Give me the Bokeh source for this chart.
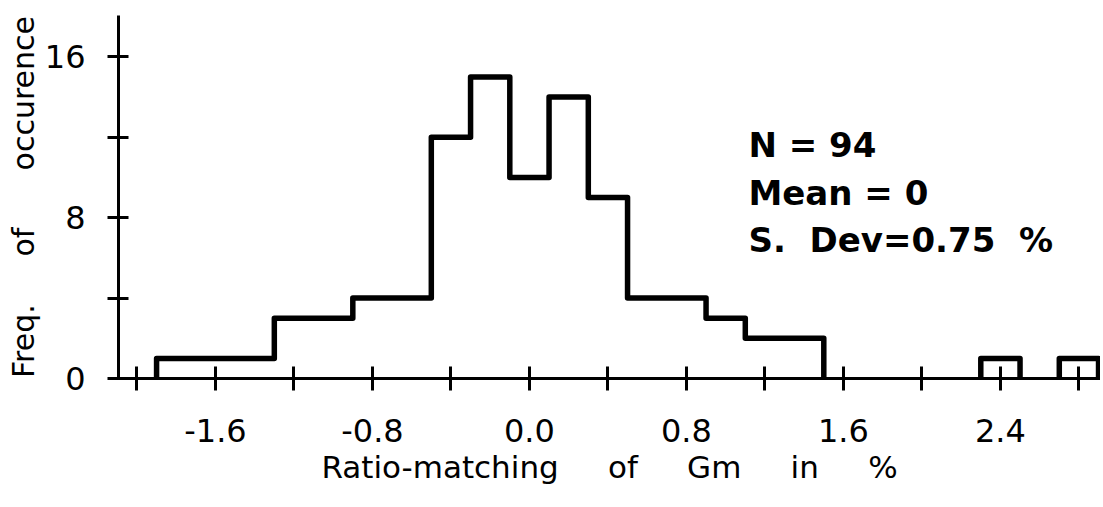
from bokeh.plotting import figure
from bokeh.models import FixedTicker, Label, Range1d
from bokeh.embed import file_html
from bokeh.resources import INLINE

# ---- data ----
bin_left = [-1.9, -1.7, -1.5, -1.3, -1.1, -0.9, -0.7, -0.5, -0.3, -0.1, 0.1, 0.3,
            0.5, 0.7, 0.9, 1.1, 1.3, 1.5, 1.7, 1.9, 2.1, 2.3, 2.5, 2.7]
bin_width = 0.2
counts = [1, 1, 1, 3, 3, 4, 4, 12, 15, 10, 14, 9,
          4, 4, 3, 2, 2, 0, 0, 0, 0, 1, 0, 1]
x_ticks = [-2.0, -1.6, -1.2, -0.8, -0.4, 0.0, 0.4, 0.8, 1.2, 1.6, 2.0, 2.4, 2.8]
x_tick_labels = ["", "-1.6", "", "-0.8", "", "0.0", "", "0.8", "", "1.6", "", "2.4", ""]
y_ticks = [0, 4, 8, 12, 16]
y_tick_labels = ["0", "", "8", "", "16"]
G5 = "\u00a0" * 5
x_title = "Ratio-matching" + G5 + "of" + G5 + "Gm" + G5 + "in" + G5 + "%"
y_title = "Freq." + "\u00a0" * 5 + "of" + "\u00a0" * 6 + "occurence"
stats_lines = ["N = 94", "Mean = 0", "S.\u00a0\u00a0Dev=0.75\u00a0\u00a0%"]
stats_x = 1.116
stats_y = [11.6, 9.25, 6.87]

FONT = "DejaVu Sans"

p = figure(width=1100, height=500, output_backend="svg", toolbar_location=None,
           x_range=Range1d(-2.094, 2.91), y_range=Range1d(0, 18.06),
           min_border_left=118, min_border_right=0, min_border_top=15,
           min_border_bottom=122)
p.outline_line_color = None
p.grid.grid_line_color = None
p.background_fill_color = "white"
p.border_fill_color = "white"

# ---- histogram outline built from the bins ----
xs, ys = [], []
cx, cy = None, None
for l, c in zip(bin_left, counts):
    r = l + bin_width
    if c > 0:
        if cx is None:
            cx, cy = [l], [0]
        cx += [l, r]
        cy += [c, c]
    elif cx is not None:
        cx.append(cx[-1]); cy.append(0)
        xs.append(cx); ys.append(cy)
        cx, cy = None, None
if cx is not None:
    cx.append(cx[-1]); cy.append(0)
    xs.append(cx); ys.append(cy)

p.multi_line(xs, ys, line_color="black", line_width=5.5, line_join="round")

# ---- axes ----
xa = p.xaxis[0]
xa.ticker = FixedTicker(ticks=x_ticks, minor_ticks=[])
xa.major_label_overrides = dict(zip(x_ticks, x_tick_labels))
ya = p.yaxis[0]
ya.ticker = FixedTicker(ticks=y_ticks, minor_ticks=[])
ya.major_label_overrides = dict(zip(y_ticks, y_tick_labels))

for ax in (xa, ya):
    ax.axis_line_width = 3
    ax.axis_line_color = "black"
    ax.major_tick_line_width = 3
    ax.major_tick_line_color = "black"
    ax.minor_tick_line_color = None
    ax.major_label_text_font = FONT
    ax.major_label_text_font_size = "32px"
    ax.major_label_text_color = "black"
    ax.axis_label_text_font = FONT
    ax.axis_label_text_font_style = "normal"
    ax.axis_label_text_color = "black"

xa.major_tick_in = 12
xa.major_tick_out = 12
xa.axis_label = x_title
xa.axis_label_text_font_size = "31px"
xa.major_label_standoff = 28
xa.axis_label_standoff = 4

ya.major_tick_in = 10
ya.major_tick_out = 11
ya.axis_label = y_title
ya.axis_label_text_font_size = "30px"
ya.major_label_standoff = 22
ya.axis_label_standoff = 1
ya.major_label_orientation = "horizontal"

for txt, yy in zip(stats_lines, stats_y):
    p.add_layout(Label(x=stats_x, y=yy, text=txt, text_font=FONT,
                       text_font_size="34px", text_font_style="bold",
                       text_baseline="middle", text_color="black"))

open("out.html", "w").write(file_html(p, INLINE))
